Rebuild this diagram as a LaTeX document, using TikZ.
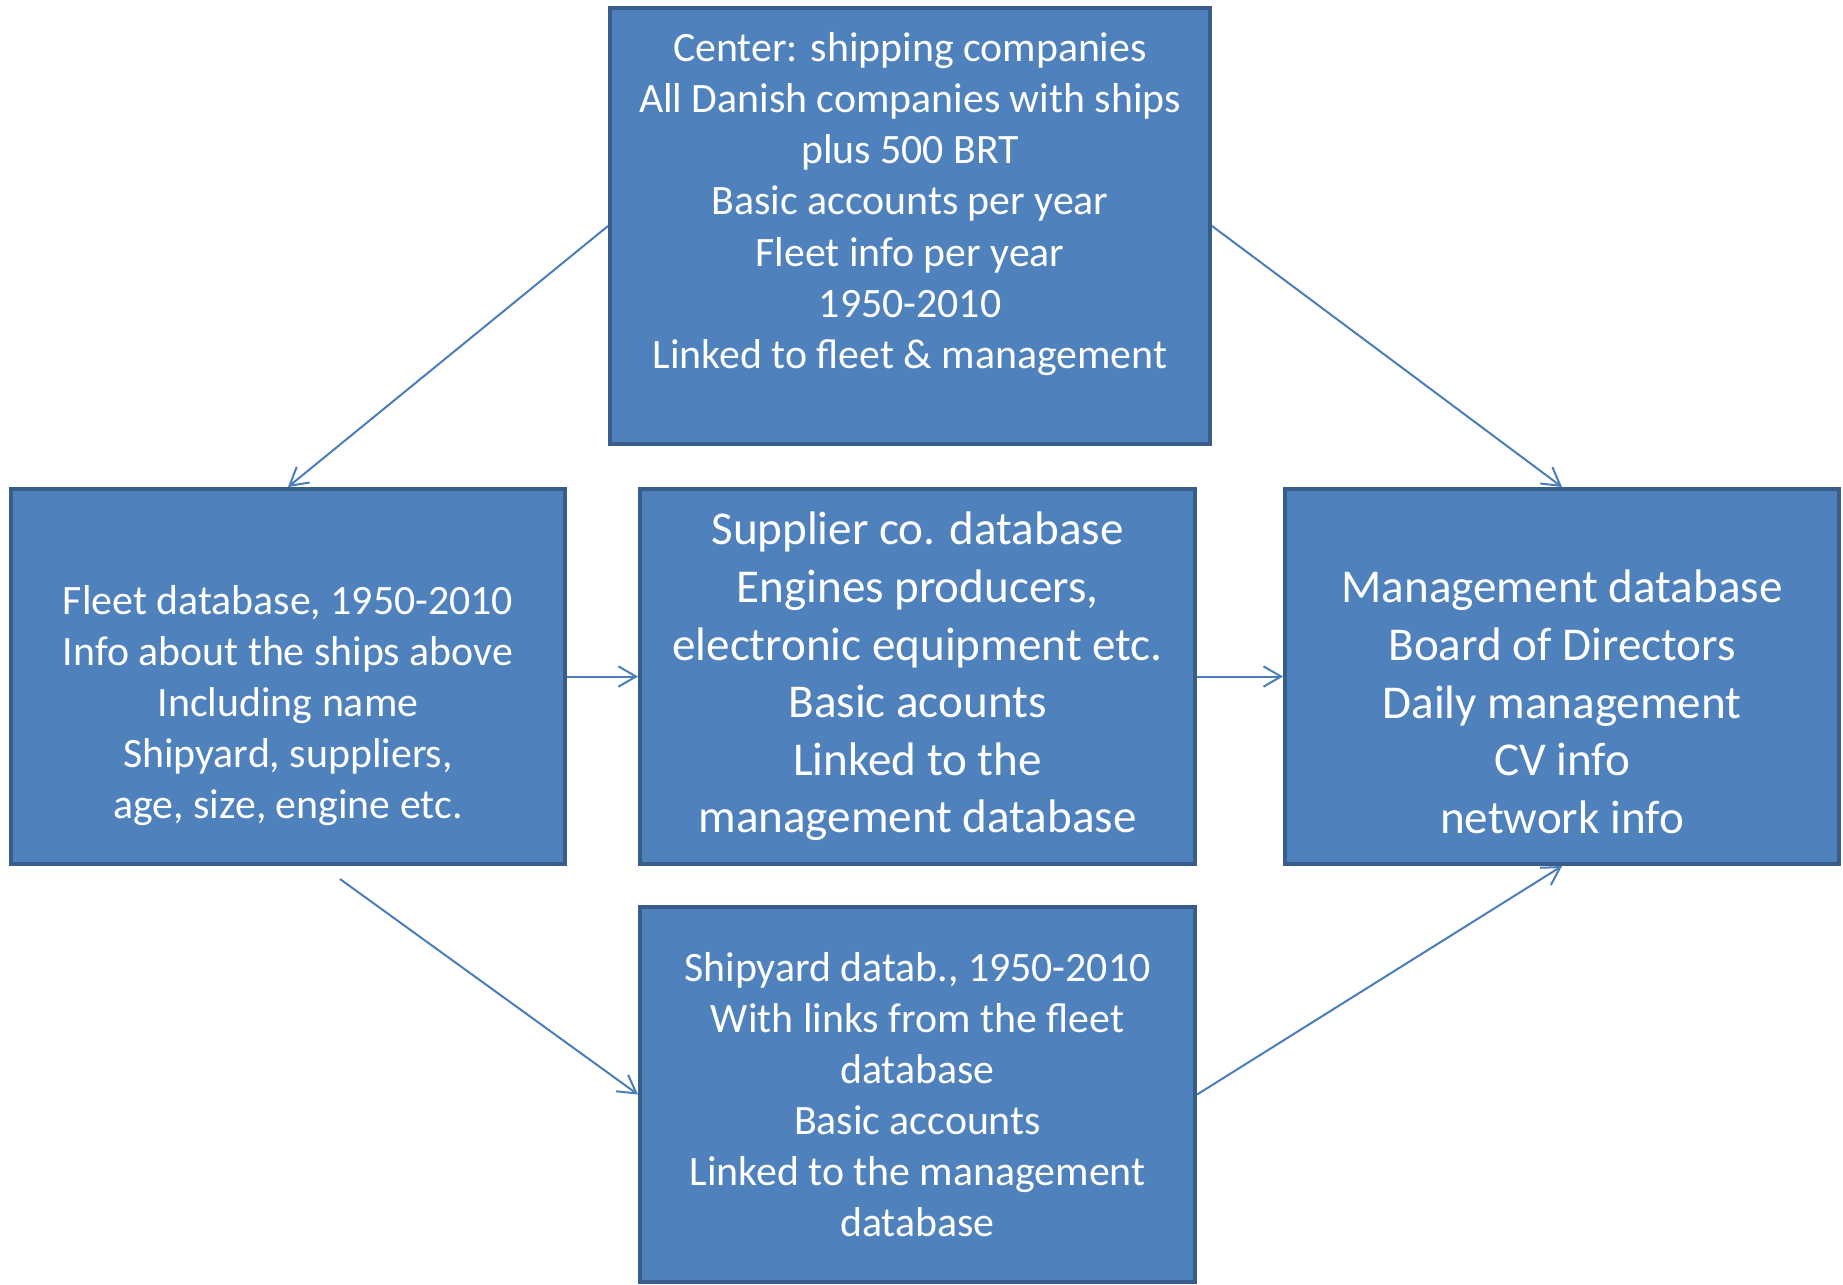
\documentclass[tikz,border=0pt]{standalone}
\usepackage{fontspec}
\setmainfont{Carlito}
\usetikzlibrary{arrows.meta}
\definecolor{boxfill}{HTML}{4F81BD}
\definecolor{boxline}{HTML}{385D8A}
\definecolor{linkline}{HTML}{4A7EBB}

\begin{document}
\begin{tikzpicture}[
  dbbox/.style={draw=boxline, fill=boxfill, line width=1.14pt, text=white,
                align=center, inner sep=0pt, minimum height=3.75cm, minimum width=5.54cm},
  smalltext/.style={font=\fontsize{11.9pt}{14.55pt}\selectfont},
  bigtext/.style={font=\fontsize{13.4pt}{16.4pt}\selectfont},
  link/.style={draw=linkline, line width=0.57pt, -{Straight Barb[length=5pt,width=5.8pt]}}]
\useasboundingbox (0,0) rectangle (18.43,-12.84);

% boxes
\node[dbbox, smalltext, minimum width=6.00cm, minimum height=4.36cm] (ship) at (9.10,-2.26)
  {Center: shipping companies\\ All Danish companies with ships\\ plus 500 BRT\\
   Basic accounts per year\\ Fleet info per year\\ 1950-2010\\ Linked to fleet \& management\\ ~};
\node[dbbox, smalltext] (fleet) at (2.88,-6.765)
  {\strut\\ Fleet database, 1950-2010\\ Info about the ships above\\ Including name\\
   Shipyard, suppliers,\\ age, size, engine etc.};
\node[dbbox, bigtext, minimum width=5.55cm] (supplier) at (9.175,-6.765)
  {Supplier co. database\\ Engines producers,\\ electronic equipment etc.\\
   Basic acounts\\ Linked to the\\ management database};
\node[dbbox, bigtext] (mgmt) at (15.62,-6.765)
  {\rule{0pt}{7.4pt}\\ Management database\\ Board of Directors\\ Daily management\\ CV info\\ network info};
\node[dbbox, smalltext, minimum width=5.55cm] (shipyard) at (9.175,-10.945)
  {Shipyard datab., 1950-2010\\ With links from the fleet\\ database\\
   Basic accounts\\ Linked to the management\\ database};
\coordinate (fleetout) at (3.40,-8.79);

% links
\draw[link] (ship.west) -- (fleet.north);
\draw[link] (ship.east) -- (mgmt.north);
\draw[link] (fleet.east) -- (supplier.west);
\draw[link] (supplier.east) -- (mgmt.west);
\draw[link] (fleetout) -- (shipyard.west);
\draw[link] (shipyard.east) -- (mgmt.south);
\end{tikzpicture}
\end{document}
